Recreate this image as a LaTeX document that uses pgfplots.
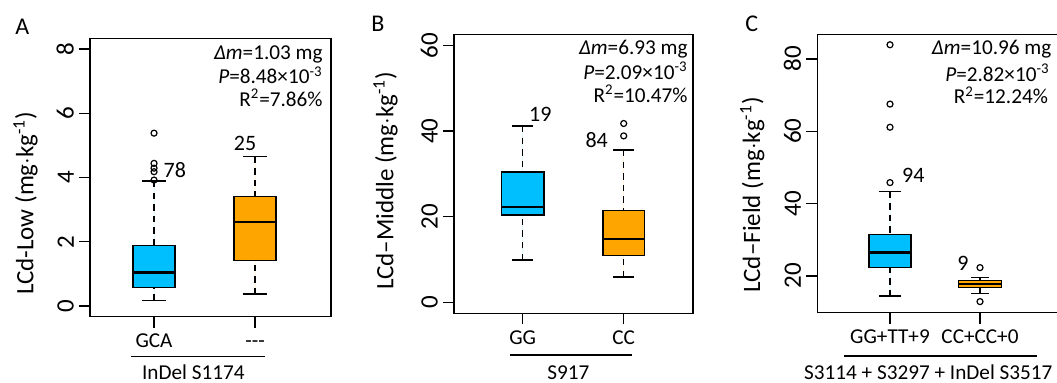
\documentclass[border=0pt]{standalone}
\usepackage{fontspec}
\setmainfont{Carlito}
\usepackage{pgfplots}
\pgfplotsset{compat=1.18}
\usepgfplotslibrary{statistics}
\definecolor{cBlue}{RGB}{0,191,255}
\definecolor{cOrange}{RGB}{255,165,0}
\newcommand{\fsA}{\fontsize{10.6pt}{12.7pt}\selectfont}
\newcommand{\fsB}{\fontsize{12.5pt}{15pt}\selectfont}
\newcommand{\fsN}{\fontsize{11pt}{13pt}\selectfont}
\pgfplotsset{
  boxplot/draw/lower whisker/.code={%
    \draw[/pgfplots/boxplot/every whisker/.try, dash pattern=on 3.2pt off 2.6pt]
      (boxplot box cs:\pgfplotsboxplotvalue{lower whisker},0.5) -- (boxplot box cs:\pgfplotsboxplotvalue{lower quartile},0.5);
    \draw[/pgfplots/boxplot/every whisker/.try]
      (boxplot whisker cs:\pgfplotsboxplotvalue{lower whisker},0) -- (boxplot whisker cs:\pgfplotsboxplotvalue{lower whisker},1);
  },
  boxplot/draw/upper whisker/.code={%
    \draw[/pgfplots/boxplot/every whisker/.try, dash pattern=on 3.2pt off 2.6pt]
      (boxplot box cs:\pgfplotsboxplotvalue{upper whisker},0.5) -- (boxplot box cs:\pgfplotsboxplotvalue{upper quartile},0.5);
    \draw[/pgfplots/boxplot/every whisker/.try]
      (boxplot whisker cs:\pgfplotsboxplotvalue{upper whisker},0) -- (boxplot whisker cs:\pgfplotsboxplotvalue{upper whisker},1);
  },
  rbox/.style={
    scale only axis, anchor=south west,
    axis line style={line width=0.7pt},
    tick pos=left, tick align=outside,
    major tick length=5.5pt,
    major tick style={black, line width=0.7pt},
    xtick={1,2},
    /pgf/number format/assume math mode=true,
    yticklabel style={rotate=90, anchor=south, inner sep=0pt, font=\fsB},
    xticklabel style={anchor=north, inner sep=0pt, text height=6.8pt, text depth=0pt, font=\fsA},
    yticklabel shift=2.4pt,
    xticklabel shift=3pt,
    clip=false,
    boxplot/draw direction=y,
    boxplot/every median/.style={line width=1.1pt},
  },
  bx/.style={draw=black, line width=0.7pt, mark=o, mark size=1.5pt, mark options={solid, line width=0.6pt}},
}
\begin{document}
\fsA
\begin{tikzpicture}
\path[use as bounding box] (0,0) rectangle (528.5pt,191.5pt);
\clip (0,0) rectangle (528.5pt,191.5pt);
% Panel A
\begin{axis}[rbox, at={(45pt,33.15pt)}, width=120.5pt, height=139.2pt,
  xmin=0.366, xmax=2.752, ymin=-0.333, ymax=8.333,
  ytick={0,2,4,6,8}, xticklabels={GCA,-{}-{}-}]
\addplot[bx, fill=cBlue, boxplot prepared={draw position=1, median=1.04, lower quartile=0.58, upper quartile=1.88, lower whisker=0.17, upper whisker=3.89, box extend=0.416, whisker extend=0.23}]
  coordinates {(1,3.92) (1,4.18) (1,4.29) (1,4.44) (1,5.38)};
\addplot[bx, fill=cOrange, boxplot prepared={draw position=2, median=2.62, lower quartile=1.42, upper quartile=3.40, lower whisker=0.37, upper whisker=4.65, box extend=0.416, whisker extend=0.23}]
  coordinates {};
\node[anchor=west, inner sep=0pt, font=\fsN] at (axis cs:1.092,4.24) {78};
\node[inner sep=0pt, font=\fsN] at (axis cs:1.901,5.06) {25};
\end{axis}
% Panel B
\begin{axis}[rbox, at={(227pt,34.85pt)}, width=119.5pt, height=139.5pt,
  xmin=0.32, xmax=2.686, ymin=-2.57, ymax=62.66,
  ytick={0,20,40,60}, xticklabels={GG,CC}]
\addplot[bx, fill=cBlue, boxplot prepared={draw position=1, median=22.3, lower quartile=20.4, upper quartile=30.5, lower whisker=9.9, upper whisker=41.2, box extend=0.42, whisker extend=0.21}]
  coordinates {};
\addplot[bx, fill=cOrange, boxplot prepared={draw position=2, median=14.8, lower quartile=11.0, upper quartile=21.4, lower whisker=5.9, upper whisker=35.6, box extend=0.41, whisker extend=0.21}]
  coordinates {(2,38.9) (2,41.8)};
\node[inner sep=0pt, font=\fsN] at (axis cs:1.174,44.0) {19};
\node[inner sep=0pt, font=\fsN] at (axis cs:1.733,37.9) {84};
\end{axis}
% Panel C
\begin{axis}[rbox, at={(408.65pt,35.15pt)}, width=126.36pt, height=139.2pt,
  xmin=0.192, xmax=3.0, ymin=9.84, ymax=86.8,
  ytick={20,40,60,80}, xticklabels={GG+TT+9,CC+CC+0}]
\addplot[bx, fill=cBlue, boxplot prepared={draw position=1, median=26.5, lower quartile=22.3, upper quartile=31.4, lower whisker=14.4, upper whisker=43.3, box extend=0.47, whisker extend=0.245}]
  coordinates {(1,45.8) (1,61.1) (1,67.5) (1,83.9)};
\addplot[bx, fill=cOrange, boxplot prepared={draw position=2, median=17.69, lower quartile=16.75, upper quartile=18.69, lower whisker=15.2, upper whisker=19.52, box extend=0.48, whisker extend=0.2}]
  coordinates {(2,12.9) (2,22.3)};
\node[inner sep=0pt, font=\fsN] at (axis cs:1.259,47.9) {94};
\node[inner sep=0pt, font=\fsN] at (axis cs:1.809,23.5) {9};
\end{axis}
% annotations in pixel coordinates
\begin{scope}[x=0.5pt, y=-0.5pt, yshift=191.5pt]
\node[anchor=base west, inner sep=0pt, font=\fontsize{12pt}{14pt}\selectfont] at (15,35) {A};
\node[anchor=base west, inner sep=0pt, font=\fontsize{12pt}{14pt}\selectfont] at (371,31.7) {B};
\node[anchor=base west, inner sep=0pt, font=\fontsize{12pt}{14pt}\selectfont] at (745,31.7) {C};
\node[rotate=90, anchor=base, inner sep=0pt, font=\fsB] at (33.3,203.3) {LCd-Low (mg$\cdot$kg\textsuperscript{-1})};
\node[rotate=90, anchor=base, inner sep=0pt, font=\fsB] at (393.3,180.8) {LCd–Middle (mg$\cdot$kg\textsuperscript{-1})};
\node[rotate=90, anchor=base, inner sep=0pt, font=\fsB] at (760,195) {LCd–Field (mg$\cdot$kg\textsuperscript{-1})};
\node[anchor=base east, inner sep=0pt] at (323,59.3) {\textit{Δm}=1.03 mg};
\node[anchor=base east, inner sep=0pt] at (323,84) {\textit{P}=8.48×10\textsuperscript{-3}};
\node[anchor=base east, inner sep=0pt] at (323,106.7) {R\textsuperscript{2}=7.86\%};
\node[anchor=base east, inner sep=0pt] at (688,54.3) {\textit{Δm}=6.93 mg};
\node[anchor=base east, inner sep=0pt] at (688,79.3) {\textit{P}=2.09×10\textsuperscript{-3}};
\node[anchor=base east, inner sep=0pt] at (688,102.7) {R\textsuperscript{2}=10.47\%};
\node[anchor=base east, inner sep=0pt] at (1051.7,55) {\textit{Δm}=10.96 mg};
\node[anchor=base east, inner sep=0pt] at (1050,81.7) {\textit{P}=2.82×10\textsuperscript{-3}};
\node[anchor=base east, inner sep=0pt] at (1048.3,104) {R\textsuperscript{2}=12.24\%};
\draw[line width=0.7pt] (131,356.7) -- (265,356.7);
\draw[line width=0.7pt] (510,355) -- (631.7,355);
\draw[line width=0.7pt] (844,356) -- (1037.3,356);
\node[anchor=base, inner sep=0pt] at (193.3,379.5) {InDel S1174};
\node[anchor=base, inner sep=0pt] at (568.3,379.5) {S917};
\node[anchor=base, inner sep=0pt] at (928.3,379.5) {S3114 + S3297 + InDel S3517};
\end{scope}
\end{tikzpicture}
\end{document}
